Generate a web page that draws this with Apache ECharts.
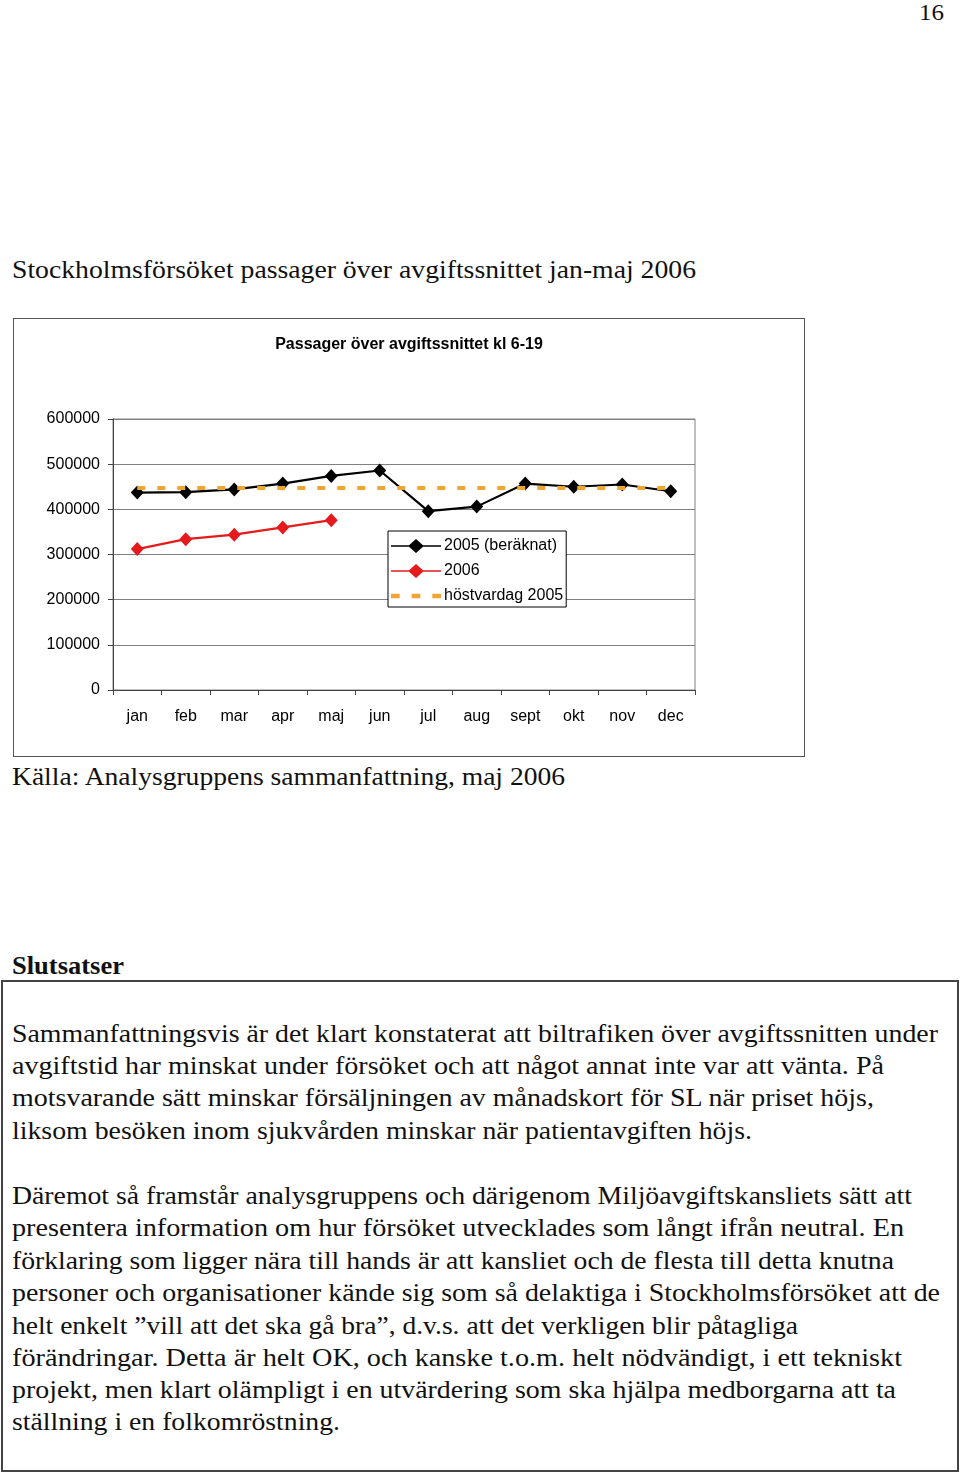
<!DOCTYPE html>
<html>
<head>
<meta charset="utf-8">
<script src="https://cdn.jsdelivr.net/npm/echarts@6/dist/echarts.min.js"></script>
<style>
  html, body { margin: 0; padding: 0; background: #fff; }
  body { width: 960px; height: 1474px; position: relative; overflow: hidden; }
  .t { position: absolute; left: 12px; white-space: nowrap; font-family: "Liberation Serif", "DejaVu Serif", serif;
       font-size: 25px; line-height: 32px; color: #111; transform-origin: 0 50%; }
  .b { font-weight: bold; }
  #chartBox { position: absolute; left: 13px; top: 318px; width: 792px; height: 439px; box-sizing: border-box;
              border: 1px solid #555; }
  #chart { position: absolute; left: 0; top: 0; width: 790px; height: 437px; }
  #concl { position: absolute; left: 1px; top: 980px; width: 958px; height: 492px; box-sizing: border-box; border: 2px solid #444; }
</style>
</head>
<body>
<div class="t" style="left:919px; top:-4px; font-size:24px;" data-w="25">16</div>
<div class="t" style="top:254px;" data-w="684">Stockholmsförsöket passager över avgiftssnittet jan-maj 2006</div>
<div id="chartBox"><div id="chart"></div></div>
<div class="t" style="top:761px;" data-w="553">Källa: Analysgruppens sammanfattning, maj 2006</div>
<div class="t b" style="top:950px;" data-w="112">Slutsatser</div>
<div id="concl"></div>
<div class="t" style="top:1018px;" data-w="926">Sammanfattningsvis är det klart konstaterat att biltrafiken över avgiftssnitten under</div>
<div class="t" style="top:1050px;" data-w="872">avgiftstid har minskat under försöket och att något annat inte var att vänta. På</div>
<div class="t" style="top:1082px;" data-w="862">motsvarande sätt minskar försäljningen av månadskort för SL när priset höjs,</div>
<div class="t" style="top:1115px;" data-w="740">liksom besöken inom sjukvården minskar när patientavgiften höjs.</div>
<div class="t" style="top:1180px;" data-w="900">Däremot så framstår analysgruppens och därigenom Miljöavgiftskansliets sätt att</div>
<div class="t" style="top:1212px;" data-w="892">presentera information om hur försöket utvecklades som långt ifrån neutral. En</div>
<div class="t" style="top:1245px;" data-w="882">förklaring som ligger nära till hands är att kansliet och de flesta till detta knutna</div>
<div class="t" style="top:1277px;" data-w="928">personer och organisationer kände sig som så delaktiga i Stockholmsförsöket att de</div>
<div class="t" style="top:1310px;" data-w="786">helt enkelt ”vill att det ska gå bra”, d.v.s. att det verkligen blir påtagliga</div>
<div class="t" style="top:1342px;" data-w="890">förändringar. Detta är helt OK, och kanske t.o.m. helt nödvändigt, i ett tekniskt</div>
<div class="t" style="top:1374px;" data-w="884">projekt, men klart olämpligt i en utvärdering som ska hjälpa medborgarna att ta</div>
<div class="t" style="top:1406px;" data-w="328">ställning i en folkomröstning.</div>

<script>
// ---- data ----
var months = ['jan', 'feb', 'mar', 'apr', 'maj', 'jun', 'jul', 'aug', 'sept', 'okt', 'nov', 'dec'];
var yTicks = [0, 100000, 200000, 300000, 400000, 500000, 600000];
var series2005 = [437000, 438000, 444000, 457000, 474000, 486000, 396000, 406000, 457000, 450000, 455000, 440000];
var series2006 = [312000, 334000, 344000, 360000, 376000];
var hostvardag2005 = [447000, 447000, 447000, 447000, 447000, 447000, 447000, 447000, 447000, 447000, 447000, 447000];
var seriesNames = ['2005 (beräknat)', '2006', 'höstvardag 2005'];
var chartTitle = 'Passager över avgiftssnittet kl 6-19';

// ---- fit text lines to measured widths ----
document.querySelectorAll('.t').forEach(function (el) {
  var target = parseFloat(el.getAttribute('data-w'));
  var w = el.getBoundingClientRect().width;
  if (w > 0 && target) el.style.transform = 'scaleX(' + (target / w) + ')';
});

// legend icons (50 x 14 box): line with diamond, and three dashes
var iconLineDiamond = 'path://M0,6.2 L18,6.2 L25,0 L32,6.2 L50,6.2 L50,7.8 L32,7.8 L25,14 L18,7.8 L0,7.8 Z';
var iconDashes = 'path://M2,5 L10,5 L10,9 L2,9 Z M21,5 L29,5 L29,9 L21,9 Z M40,5 L48,5 L48,9 L40,9 Z';

// ---- chart ----
var font = '"Liberation Sans", Arial, sans-serif';
var chart = echarts.init(document.getElementById('chart'), null, { renderer: 'canvas' });
chart.setOption({
  animation: false,
  backgroundColor: '#fff',
  textStyle: { fontFamily: font },
  title: {
    text: chartTitle, left: 'center', top: 13,
    textStyle: { fontFamily: font, fontSize: 16, fontWeight: 'bold', color: '#000' }
  },
  grid: { left: 99, top: 100, right: 109, bottom: 66, show: true, borderColor: '#808080', borderWidth: 1, backgroundColor: '#fff' },
  legend: {
    orient: 'vertical', left: 374, top: 212,
    padding: [7, 3, 3, 3], itemGap: 9, itemWidth: 50, itemHeight: 14,
    borderColor: '#000', borderWidth: 1, backgroundColor: '#fff',
    textStyle: { fontFamily: font, fontSize: 16, color: '#000', padding: [0, 0, 0, -2] },
    data: [
      { name: seriesNames[0], icon: iconLineDiamond, itemStyle: { color: '#000', borderWidth: 0 } },
      { name: seriesNames[1], icon: iconLineDiamond, itemStyle: { color: '#e41a1c', borderWidth: 0 } },
      { name: seriesNames[2], icon: iconDashes, itemStyle: { color: '#eea534', borderWidth: 0 } }
    ]
  },
  xAxis: {
    type: 'category', data: months, boundaryGap: true,
    axisLine: { lineStyle: { color: '#444', width: 1 } },
    axisTick: { show: true, length: 5, inside: false, lineStyle: { color: '#444' } },
    axisLabel: { color: '#000', fontSize: 16, fontFamily: font, margin: 19, interval: 0 },
    splitLine: { show: false }
  },
  yAxis: {
    type: 'value', min: yTicks[0], max: yTicks[yTicks.length - 1], interval: yTicks[1] - yTicks[0],
    axisLine: { show: true, lineStyle: { color: '#444', width: 1 } },
    axisTick: { show: true, length: 5, lineStyle: { color: '#444' } },
    axisLabel: { color: '#000', fontSize: 16, fontFamily: font, margin: 13, formatter: function (v) { return String(v); } },
    splitLine: { show: true, lineStyle: { color: '#808080', width: 1 } }
  },
  series: [
    {
      name: seriesNames[0], type: 'line', data: series2005,
      symbol: 'diamond', symbolSize: [13, 14],
      lineStyle: { color: '#000', width: 2.2 }, itemStyle: { color: '#000' }, z: 3
    },
    {
      name: seriesNames[1], type: 'line', data: series2006,
      symbol: 'diamond', symbolSize: [13, 14],
      lineStyle: { color: '#e41a1c', width: 2.2 }, itemStyle: { color: '#e41a1c' }, z: 3
    },
    {
      name: seriesNames[2], type: 'line', data: hostvardag2005,
      symbol: 'none', showSymbol: false,
      lineStyle: { color: '#eea534', width: 4, type: [8, 12], cap: 'butt' },
      itemStyle: { color: '#eea534' }, z: 4
    }
  ]
});
</script>
</body>
</html>
